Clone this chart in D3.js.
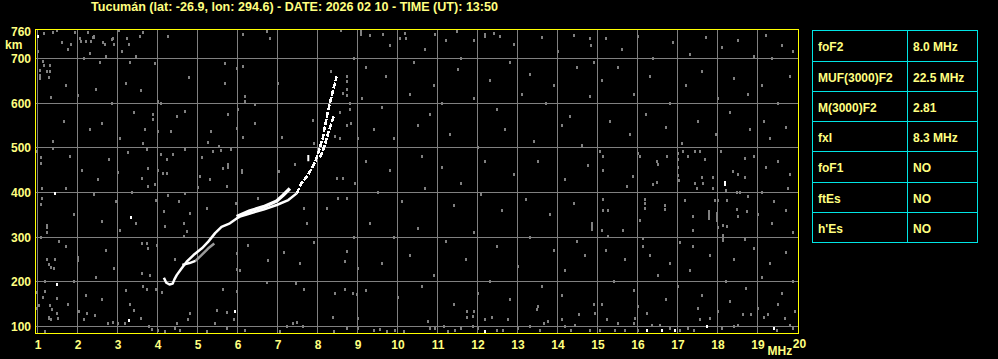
<!DOCTYPE html>
<html><head><meta charset="utf-8">
<script src="https://cdn.jsdelivr.net/npm/d3@7"></script>
<style>html,body{margin:0;padding:0;background:#000;overflow:hidden}</style>
</head><body>
<svg id="c" width="998" height="359" style="background:#000;display:block"></svg>
<script>
// ---------- DATA ----------
const title = "Tucumán (lat: -26.9, lon: 294.6) - DATE: 2026 02 10 - TIME (UT): 13:50";
const freqTicks = d3.range(1, 21);              // MHz
const heightGrid = [100, 200, 300, 400, 500, 600, 700]; // km
const heightLabels = [100, 200, 300, 400, 500, 600, 700, 760];
const tableLabels = ["foF2", "MUF(3000)F2", "M(3000)F2", "fxI", "foF1", "ftEs", "h'Es"];
const tableValues = ["8.0 MHz", "22.5 MHz", "2.81", "8.3 MHz", "NO", "NO", "NO"];

// main trace [MHz, km]
const traceMain = [[4.16,209],[4.22,198],[4.3,194],[4.38,196],[4.42,205],[4.48,215],[4.6,230],[4.73,245],[4.9,260],[5.11,275],[5.27,290],[5.44,309],[5.6,323],[5.81,331],[5.98,342],[6.06,346],[6.31,353],[6.65,362],[6.98,372],[7.27,383],[7.48,398],[7.6,421],[7.73,435],[7.86,454],[7.96,473],[8.04,495],[8.13,521],[8.2,555],[8.27,585],[8.33,608],[8.4,632],[8.48,660]];
// second trace pieces
const traceLowerWhite = [[4.62,238],[4.8,242],[4.95,247]];
const traceLowerGray = [[4.95,247],[5.1,260],[5.27,275],[5.42,286]];
const traceBand = [[5.98,346],[6.31,359],[6.65,368],[6.98,381],[7.14,394],[7.31,409]];
const traceFrag = [[7.77,470],[7.77,484]];
const traceUpper = [[8.06,478],[8.12,490],[8.2,512],[8.28,537],[8.36,559],[8.41,572]];

// background echoes / noise [MHz, km]
const noiseGray = [
[1.39,758],[1.48,762],[1.01,715],[1.13,693],[1.16,685],[1.31,684],[1.23,670],[1.31,670],[1.05,674],[1.05,663],[1.06,656],[1.29,658],[1.33,612],[1.38,514],[1.38,499],[1.09,478],[1.09,464],[0.98,491],[1.11,408],[1.11,387],[1.08,374],[1.23,311],[1.08,300],[1.54,290],[1.23,249],[1.29,238],[1.33,233],[1.41,230],[1.44,250],[1.18,200],[0.995,176],[1.19,178],[1.13,165],[1.49,162],[1.04,148],[1.31,146],[0.98,141],[1.35,137],[1.29,118],[1.52,118],[1.19,88],
[1.29,121],[1.33,116],[1.48,128],[2.04,133],[2.24,128],[2.44,124],[2.17,116],[2.77,106],[2.89,109],[3.02,106],[3.19,107],[3.40,135],[3.58,118],[3.79,101],[3.86,94],[4.02,91],[4.19,88],[4.48,106],[4.44,96],[4.56,91],[4.81,128],[4.77,116],[5.23,88],[5.44,106],[5.48,135],[5.73,131],[5.90,116],[5.73,96],[6.19,91],[7.23,101],[7.38,106],[7.48,109],[7.63,101],[7.06,88],[8.38,121],[8.40,88],[8.73,96],[9.02,118],[9.02,96],[9.40,92],[9.56,94],[9.73,88],[9.94,91],[10.15,88],[10.77,111],[10.81,96],[10.94,96],[11.15,101],[11.27,88],[11.44,91],[11.6,96],[11.73,121],[11.88,122],[11.88,100],[12.02,96],[12.36,121],[12.48,91],[11.73,133],[11.9,133],[12.19,115],
[12.77,115],[12.64,92],[13.02,96],[13.31,100],[13.56,92],[13.65,107],[13.77,111],[13.48,137],[14.1,115],[14.19,100],[14.35,92],[14.44,103],[14.54,126],[14.94,130],[14.81,92],[15.06,92],[15.23,115],[15.44,92],[15.52,107],[15.69,92],[15.9,107],[15.94,118],[16.02,92],[16.23,130],[16.36,103],[16.56,103],[16.81,96],[17.06,92],[17.27,96],[17.4,92],[17.56,115],[17.81,118],[18.02,133],[18.1,96],[18.4,100],[18.52,103],[18.65,126],[18.83,126],[19.15,121],[19.27,126],[19.48,92],[19.69,118],[19.81,103],[19.9,96],[19.94,133],
[1.15,756],[1.94,758],[2.27,758],[2.4,749],[2.89,745],[3.04,762],[3.23,745],[3.64,758],[3.56,750],[4.27,749],[6.13,753],[6.73,761],[6.8,745],[8.58,762],[9.08,760],[9.08,753],[9.63,753],[10.19,756],[10.06,745],[10.94,753],[11.48,760],[12.19,753],[12.56,749],[12.19,749],
[1.84,731],[2.09,739],[2.2,739],[2.34,739],[2.38,746],[2.42,746],[2.63,735],[2.69,731],[2.86,742],[2.92,731],[3.28,731],
[3.94,688],[3.58,628],[4.02,603],[4.1,600],[4.79,658],[5.69,689],[5.98,678],[6.13,683],[5.69,644],[6.19,616],[6.19,603],[6.02,585],[6.44,596],[7.02,644],[8.35,670],[8.73,660],[8.73,648],[8.73,630],[8.73,618],[8.64,622],[8.81,600],[8.81,585],[8.83,555],[8.56,579],[3.88,574],[3.88,564],[4.48,571],[4.69,581],[5.77,574],[6.44,555],[3.69,540],[4.0,536],[4.33,536],[5.33,536],[5.98,544],[6.13,524],[7.1,524],[7.88,562],[7.9,510],[8.44,525],[8.55,521],[8.73,551],[3.63,509],[3.73,497],[4.08,486],[4.23,473],[4.38,486],[4.69,497],[5.11,479],[5.27,513],[5.38,491],[5.54,504],[5.58,495],[5.83,497],[5.63,454],[7.04,447],[7.44,462],[3.77,454],[4.02,450],[4.13,443],[4.23,443],[3.6,432],[3.94,417],[3.77,413],[5.06,435],[5.31,430],[5.73,413],[5.02,412],[4.69,398],[4.27,394],[4.54,379],[3.96,383],[4.15,357],[4.81,353],[4.65,331],[4.19,323],[4.73,312],[5.23,365],[5.96,376],[6.52,387],[7.65,365],[7.73,331],[8.23,365],[8.52,387],[8.73,387],[3.6,286],[3.73,285],[3.75,275],[3.98,282],[6.27,282],[7.15,265],[5.98,264],[7.9,288],[8.73,269],[4.44,249],[5.98,227],[6.06,225],[6.77,247],[7.56,241],[8.69,245],[3.6,219],[3.81,215],[3.64,189],[3.73,182],[3.96,182],[4.11,176],[5.63,182],[5.98,178],[6.73,198],[7.46,197],[7.65,183],[8.44,173],[8.69,182],[8.98,171],[8.89,174],[4.65,301],[8.48,432],[8.63,432],
[15.06,491],[15.13,480],[16.01,488],[16.06,480],[16.48,469],[16.51,462],[16.73,480],[17.01,488],[17.01,473],[17.14,491],[17.26,480],[17.44,491],[17.56,491],[17.69,473],[18.08,491],[18.69,477],[15.14,450],[15.88,435],[15.73,413],[16.38,419],[16.48,422],[17.01,455],[17.01,437],[17.04,426],[17.44,421],[17.48,410],[17.6,433],[17.63,421],[17.89,433],[17.89,410],[18.21,404],[18.39,447],[18.51,441],[18.69,433],[18.48,399],[18.56,399],[18.76,391],[15.13,385],[16.19,385],[16.19,376],[16.19,365],[16.69,372],[16.69,363],[17.19,382],[17.94,382],[18.01,382],[18.23,382],[15.13,359],[15.26,359],[16.06,338],[17.38,346],[18.48,363],[18.73,357],[18.51,346],[15.11,316],[15.63,315],[17.38,315],[18.01,321],[18.14,327],[18.23,323],[16.13,296],[15.26,301],[17.06,288],[17.38,279],[16.14,279],[18.69,294],
// estimated from the overview (1.5-3.5 MHz)
[1.6,735],[1.75,720],[2.05,745],[2.15,700],[2.3,712],[2.55,690],[2.7,705],[3.1,715],[3.3,690],[3.45,705],[1.7,640],[2.0,617],[2.45,630],[2.85,600],[3.2,645],[3.4,580],[1.65,560],[2.3,540],[2.6,555],[3.05,520],[1.8,480],[2.8,473],[3.25,490],[2.1,450],[2.5,430],[3.0,445],[1.7,410],[2.4,396],[2.95,380],[3.35,400],[1.9,350],[2.6,335],[3.05,316],[3.45,330],[2.0,255],[2.0,248],[2.7,270],[1.7,280],[2.45,210],[3.2,180],[2.9,230],[1.9,200],[2.6,160],[3.3,150],[2.2,170],[1.75,150],
// 9-15 MHz
[9.3,752],[9.8,730],[10.2,745],[10.7,720],[11.2,740],[11.6,700],[11.9,740],[12.4,755],[12.9,732],[13.6,748],[14.0,715],[14.4,752],[14.8,744],[14.85,730],[14.9,690],[9.2,680],[9.7,660],[10.4,690],[10.9,640],[11.5,675],[12.3,650],[12.8,690],[13.3,665],[13.9,640],[14.5,680],[9.1,610],[9.6,590],[10.3,620],[10.8,575],[11.1,600],[11.9,610],[12.5,585],[13.1,620],[13.7,600],[14.3,570],[14.8,615],[9.4,540],[9.9,520],[10.5,550],[11.3,530],[12.0,500],[12.7,540],[13.4,515],[14.1,550],[14.6,505],[9.2,470],[9.8,450],[10.6,480],[11.1,455],[11.6,420],[12.2,470],[12.9,440],[13.5,470],[14.2,430],[14.75,460],[9.5,400],[10.1,380],[10.7,410],[11.4,370],[12.1,395],[12.6,360],[13.2,385],[13.8,350],[14.4,375],[9.3,330],[9.9,300],[10.5,320],[11.2,290],[11.9,310],[12.5,280],[13.3,300],[13.9,270],[14.5,290],[9.6,240],[10.3,260],[10.9,215],[11.7,250],[12.3,200],[13.0,235],[13.6,190],[14.2,225],[14.7,260],[9.2,180],[10.0,165],[10.6,190],[11.4,150],[12.0,175],[12.8,160],[13.5,145],[14.1,170],[14.9,150],
// 15-20 MHz
[15.2,745],[15.6,720],[16.0,750],[16.4,700],[16.9,735],[17.3,710],[17.7,748],[18.1,725],[18.5,740],[18.9,705],[19.2,752],[19.35,700],[19.6,730],[19.9,715],[15.1,650],[15.5,680],[15.9,620],[16.3,660],[16.8,600],[17.2,640],[17.6,670],[18.0,610],[18.4,655],[18.75,620],[19.1,640],[19.5,600],[19.8,660],[15.3,560],[15.8,530],[16.2,575],[16.7,545],[17.1,510],[17.5,560],[17.95,530],[18.3,580],[18.8,540],[19.15,560],[19.3,520],[19.7,545],
[15.2,270],[15.7,250],[16.3,260],[16.8,240],[17.3,225],[17.8,260],[18.4,250],[18.9,275],[19.3,240],[19.7,265],[15.4,200],[15.9,180],[16.5,215],[17.0,190],[17.6,170],[18.2,200],[18.7,185],[19.1,210],[19.6,175],[19.9,200],[15.1,150],[16.0,145],[16.7,160],[17.5,140],[18.3,155],[19.0,140],[19.5,150],
[18.9,480],[19.2,455],[19.5,470],[19.8,440],[19.1,400],[19.4,380],[19.75,410],[19.0,350],[19.35,330],[19.7,360],[19.9,310],
[8.9,700],[9.0,520],[8.95,420],[8.9,300],[9.0,230]
];
const noiseWhite = [[1.02,750],[1.44,397],[1.48,193],[3.29,113],[5.94,133],[12.19,88],[16.23,92],[16.61,92],[16.94,92],[17.73,100],[19.4,96],[3.34,343]];
// vertical streaks [MHz, km from, km to]
const streakGray = [[1.23,318,330],[5.75,452,465],[6.1,440,452],[17.79,338,360],[17.98,333,356],[18.13,288,306],[14.86,315,335]];
const streakWhite = [[18.19,413,425]];

// ---------- DRAW ----------
const svg = d3.select("#c");
const FONT = "'Liberation Sans', Arial, Helvetica, sans-serif";
const TXT = "#ffff80", FRAME = "#ffff00", GRID = "#808080", CYAN = "#00e5e5";
const x = d3.scaleLinear().domain([1, 20]).range([37.5, 797.5]);
const y = d3.scaleLinear().domain([100, 700]).range([326.5, 58.5]);
const crisp = v => Math.floor(v) + 0.5;

svg.append("rect").attr("width", 998).attr("height", 359).attr("fill", "#000");

// title
svg.append("text").attr("x", 91).attr("y", 10.5)
  .attr("textLength", 407).attr("lengthAdjust", "spacingAndGlyphs")
  .attr("fill", TXT).style("font", `bold 12px ${FONT}`).text(title);

// grid
const grid = svg.append("g").attr("stroke", GRID).attr("stroke-width", 1);
grid.selectAll("line.v").data(freqTicks.filter(d => d < 20)).join("line").attr("class", "v")
  .attr("x1", d => crisp(x(d))).attr("x2", d => crisp(x(d))).attr("y1", 30).attr("y2", 333);
grid.selectAll("line.h").data(heightGrid).join("line").attr("class", "h")
  .attr("y1", d => crisp(y(d))).attr("y2", d => crisp(y(d))).attr("x1", 36).attr("x2", 798);

// noise
const pts = svg.append("g");
pts.selectAll("rect.ng").data(noiseGray).join("rect").attr("class", "ng")
  .attr("x", d => Math.round(x(d[0]) - 1)).attr("y", d => Math.round(y(d[1]) - 1.5))
  .attr("width", 2).attr("height", 3).attr("fill", GRID);
pts.selectAll("rect.sg").data(streakGray).join("rect").attr("class", "sg")
  .attr("x", d => Math.round(x(d[0]) - 1)).attr("y", d => Math.round(y(d[2])))
  .attr("width", 2).attr("height", d => Math.round(y(d[1]) - y(d[2]))).attr("fill", GRID);
pts.selectAll("rect.nw").data(noiseWhite).join("rect").attr("class", "nw")
  .attr("x", d => Math.round(x(d[0]) - 1)).attr("y", d => Math.round(y(d[1]) - 1.5))
  .attr("width", 2).attr("height", 3).attr("fill", "#fff");
pts.selectAll("rect.sw").data(streakWhite).join("rect").attr("class", "sw")
  .attr("x", d => Math.round(x(d[0]) - 1)).attr("y", d => Math.round(y(d[2])))
  .attr("width", 2).attr("height", d => Math.round(y(d[1]) - y(d[2]))).attr("fill", "#fff");

// traces
const line = d3.line().x(d => x(d[0])).y(d => y(d[1]));
const tr = svg.append("g").attr("fill", "none").attr("stroke-linejoin", "round");
tr.append("path").attr("d", line(traceLowerGray)).attr("stroke", "#999").attr("stroke-width", 2.5);
tr.append("path").attr("d", line(traceLowerWhite)).attr("stroke", "#fff").attr("stroke-width", 2.5);
tr.append("path").attr("d", line(traceMain.filter(d => d[1] <= 400))).attr("stroke", "#fff").attr("stroke-width", 2.5);
tr.append("path").attr("d", line(traceMain.filter(d => d[1] >= 398))).attr("stroke", "#fff").attr("stroke-width", 2.6).attr("stroke-dasharray", "6 1.5").attr("shape-rendering", "crispEdges");
tr.append("path").attr("d", line(traceBand)).attr("stroke", "#fff").attr("stroke-width", 3.5);
tr.append("path").attr("d", line(traceFrag)).attr("stroke", "#fff").attr("stroke-width", 2);
tr.append("path").attr("d", line(traceUpper)).attr("stroke", "#fff").attr("stroke-width", 2.6).attr("stroke-dasharray", "6 1.5").attr("shape-rendering", "crispEdges");

// frame
svg.append("rect").attr("x", 35.5).attr("y", 29.5).attr("width", 763).attr("height", 304)
  .attr("fill", "none").attr("stroke", FRAME).attr("stroke-width", 1);

// axes
const yAxis = d3.axisLeft(y).tickValues(heightLabels).tickSize(0).tickPadding(5).tickFormat(d3.format("d"));
const gy = svg.append("g").attr("transform", "translate(36,0)").call(yAxis);
const xAxis = d3.axisBottom(x).tickValues(freqTicks).tickSize(0).tickPadding(7).tickFormat(d3.format("d"));
const gx = svg.append("g").attr("transform", "translate(0,333.5)").call(xAxis);
[gy, gx].forEach(g => {
  g.select(".domain").remove();
  g.selectAll("text").attr("fill", TXT).style("font", `bold 12px ${FONT}`);
});
gx.selectAll(".tick").filter(d => d === 20).select("text").attr("x", 1.5).attr("y", 5.5);

svg.append("text").attr("x", 5).attr("y", 48.5).attr("fill", TXT).style("font", `bold 12px ${FONT}`).text("km");
svg.append("text").attr("x", 767.5).attr("y", 355).attr("fill", TXT).style("font", `bold 12px ${FONT}`).text("MHz");

// table
const rowLines = [30.5, 61.5, 91.5, 121.5, 151.5, 182.5, 212.5, 242.5];
const tbl = svg.append("g");
tbl.append("rect").attr("x", 812.5).attr("y", rowLines[0]).attr("width", 165).attr("height", rowLines[7] - rowLines[0])
  .attr("fill", "none").attr("stroke", CYAN);
tbl.append("line").attr("x1", 907.5).attr("x2", 907.5).attr("y1", rowLines[0]).attr("y2", rowLines[7]).attr("stroke", CYAN);
tbl.selectAll("line.r").data(rowLines.slice(1, 7)).join("line").attr("class", "r")
  .attr("x1", 812.5).attr("x2", 977.5).attr("y1", d => d).attr("y2", d => d).attr("stroke", CYAN);
tbl.selectAll("text.l").data(tableLabels).join("text").attr("class", "l")
  .attr("x", 818).attr("y", (d, i) => (rowLines[i] + rowLines[i + 1]) / 2 + 5)
  .attr("fill", TXT).style("font", `bold 12px ${FONT}`).text(d => d);
tbl.selectAll("text.v").data(tableValues).join("text").attr("class", "v")
  .attr("x", 913).attr("y", (d, i) => (rowLines[i] + rowLines[i + 1]) / 2 + 5)
  .attr("fill", TXT).style("font", `bold 12px ${FONT}`).text(d => d);
</script>
</body></html>
